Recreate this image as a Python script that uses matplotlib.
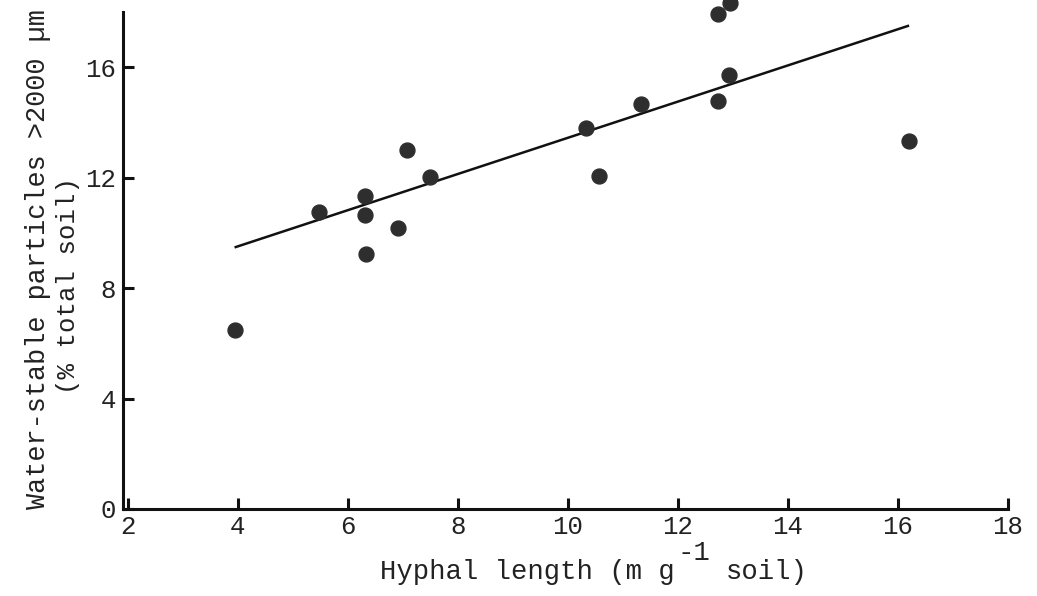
import numpy as np
import matplotlib
matplotlib.use("Agg")
import matplotlib.pyplot as plt

# values
hyphal_length = [3.95, 5.47, 6.31, 6.31, 6.33, 6.91, 7.07, 7.49,
                 10.33, 10.56, 11.33, 12.73, 12.95, 12.73, 12.93, 16.2]
water_stable = [6.49, 10.76, 11.34, 10.65, 9.24, 10.18, 13.0, 12.03,
                13.8, 12.07, 14.67, 17.93, 18.33, 14.78, 15.72, 13.33]

# fitted line end points
fit_x = [3.96, 16.18]
fit_y = [9.49, 17.5]

x_ticks = [2, 4, 6, 8, 10, 12, 14, 16, 18]
y_ticks = [0, 4, 8, 12, 16]

font = "Liberation Mono"
plt.rcParams['font.family'] = [font, 'DejaVu Sans Mono']

W, H = 1037, 596
fig = plt.figure(figsize=(W / 100, H / 100), dpi=100)
ax = fig.add_axes([123 / W, 87 / H, 885 / W, 509 / H])

ax.scatter(hyphal_length, water_stable, s=115, color='#2e2e2e', zorder=3,
           clip_on=False)
ax.plot(fit_x, fit_y, color='#111111', lw=1.8)

ax.set_xlim(1.91, 18.0)
ax.set_ylim(0, 18.44)

for s in ['top', 'right']:
    ax.spines[s].set_visible(False)
for s in ['left', 'bottom']:
    ax.spines[s].set_linewidth(2.2)
    ax.spines[s].set_color('#111111')
ax.spines['left'].set_bounds(0, 18)

ax.set_xticks(x_ticks)
ax.set_yticks(y_ticks)
ax.tick_params(axis='both', direction='in', length=8, width=2.2,
               color='#111111', labelsize=18.5, labelcolor='#222222')
ax.tick_params(axis='x', pad=4)
ax.tick_params(axis='y', pad=5)

# axis labels
fig.text(38 / W, 1 - 259 / H, "Water-stable particles >2000 µm", rotation=90,
         ha='center', va='center', fontsize=19.4, color='#222222')
fig.text(68 / W, 1 - 285 / H, "(% total soil)", rotation=90,
         ha='center', va='center', fontsize=18.5, color='#222222')

fig.text(380 / W, 1 - 572 / H, "Hyphal length (m g", ha='left', va='center',
         fontsize=19.6, color='#222222')
fig.text(678 / W, 1 - 553 / H, "-1", ha='left', va='center',
         fontsize=19.6, color='#222222')
fig.text(726 / W, 1 - 572 / H, "soil)", ha='left', va='center',
         fontsize=19.6, color='#222222')

fig.savefig("out.png", dpi=100)
